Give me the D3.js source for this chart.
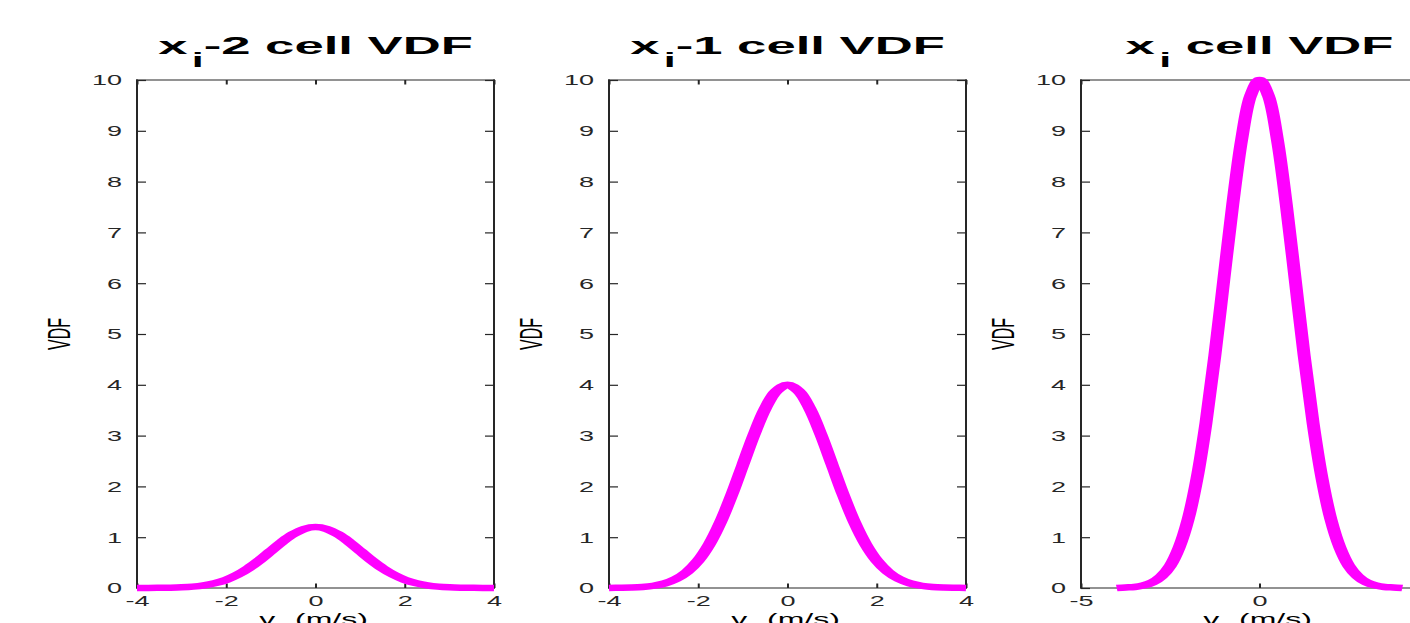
<!DOCTYPE html>
<html><head><meta charset="utf-8">
<script src="https://cdn.jsdelivr.net/npm/d3@7"></script>
<style>body{margin:0;background:#fff;overflow:hidden}svg{display:block;background:#fff}</style>
</head><body>
<svg id="c" width="1410" height="623"></svg>
<script>
// ---- data ----
const velocity = [-4,-3.75,-3.5,-3.25,-3,-2.75,-2.5,-2.25,-2,-1.75,-1.5,-1.25,-1,-0.75,-0.5,-0.25,0,0.25,0.5,0.75,1,1.25,1.5,1.75,2,2.25,2.5,2.75,3,3.25,3.5,3.75,4];
const vdfXiMinus2 = [0.000,0.001,0.003,0.006,0.013,0.027,0.053,0.096,0.162,0.260,0.390,0.549,0.728,0.906,1.059,1.163,1.200,1.163,1.059,0.906,0.728,0.549,0.390,0.260,0.162,0.096,0.053,0.027,0.013,0.006,0.003,0.001,0.000];
const vdfXiMinus1 = [0.001,0.004,0.009,0.020,0.044,0.091,0.176,0.318,0.541,0.865,1.299,1.831,2.426,3.019,3.530,3.877,4.000,3.877,3.530,3.019,2.426,1.831,1.299,0.865,0.541,0.318,0.176,0.091,0.044,0.020,0.009,0.004,0.001];
const vdfXi = [0.00,0.01,0.02,0.05,0.11,0.23,0.44,0.80,1.35,2.16,3.25,4.58,6.07,7.55,8.83,9.69,10.00,9.69,8.83,7.55,6.07,4.58,3.25,2.16,1.35,0.80,0.44,0.23,0.11,0.05,0.02,0.01,0.00];
const titleRest = ["-2 cell VDF", "-1 cell VDF", " cell VDF"];
const xDomains = [[-4,4],[-4,4],[-5,5]];
const xTickSets = [[-4,-2,0,2,4],[-4,-2,0,2,4],[-5,0,5]];
const yTicks = [0,1,2,3,4,5,6,7,8,9,10];
const yLabel = "VDF";
const series = [vdfXiMinus2, vdfXiMinus1, vdfXi];

// ---- layout ----
const lefts = [137, 609, 1081];
const W = 357, plotTop = 80, plotBottom = 588;
const SX = 2;           // horizontal stretch of the original figure
const axisColor = "#262626";
const svg = d3.select("#c");
const fmt = d => String(d);   // plain hyphen-minus like the reference

const y = d3.scaleLinear().domain([0,10]).range([plotBottom, plotTop]);

series.forEach((vals, i) => {
  const L = lefts[i];
  const x = d3.scaleLinear().domain(xDomains[i]).range([L, L + W]);
  const g = svg.append("g");

  const ga = g.append("g").attr("transform", `translate(${L},0)`)
    .call(d3.axisLeft(y).tickValues(yTicks).tickSize(-9).tickSizeOuter(0).tickFormat(fmt));
  ga.select(".domain").remove();
  ga.selectAll(".tick line").attr("stroke", axisColor).attr("stroke-width", 1.2);
  ga.selectAll(".tick text").attr("x", -15 / 1.93).attr("dy", "0.35em")
    .attr("transform", "scale(1.93,1)")
    .attr("fill", axisColor).style("font-family", "'Liberation Sans', Arial, sans-serif").style("font-size", "14px");

  const gr = g.append("g").attr("transform", `translate(${L + W},0)`)
    .call(d3.axisRight(y).tickValues(yTicks).tickSize(-9).tickSizeOuter(0).tickFormat(""));
  gr.select(".domain").remove();
  gr.selectAll(".tick line").attr("stroke", axisColor).attr("stroke-width", 1.2);

  const gb = g.append("g").attr("transform", `translate(0,${plotBottom})`)
    .call(d3.axisBottom(x).tickValues(xTickSets[i]).tickSize(-4.5).tickSizeOuter(0).tickFormat(fmt));
  gb.select(".domain").remove();
  gb.selectAll(".tick line").attr("stroke", axisColor).attr("stroke-width", 2);
  gb.selectAll(".tick text").attr("y", 18).attr("dy", 0)
    .attr("transform", "scale(1.93,1)")
    .attr("fill", axisColor).style("font-family", "'Liberation Sans', Arial, sans-serif").style("font-size", "14px");

  const gt = g.append("g").attr("transform", `translate(0,${plotTop})`)
    .call(d3.axisTop(x).tickValues(xTickSets[i]).tickSize(-4.5).tickSizeOuter(0).tickFormat(""));
  gt.select(".domain").remove();
  gt.selectAll(".tick line").attr("stroke", axisColor).attr("stroke-width", 2);

  g.append("line").attr("x1", L).attr("x2", L).attr("y1", plotTop - 0.6).attr("y2", plotBottom + 0.6).attr("stroke", axisColor).attr("stroke-width", 2);
  g.append("line").attr("x1", L + W).attr("x2", L + W).attr("y1", plotTop - 0.6).attr("y2", plotBottom + 0.6).attr("stroke", axisColor).attr("stroke-width", 2);
  g.append("line").attr("x1", L - 1).attr("x2", L + W + 1).attr("y1", plotTop).attr("y2", plotTop).attr("stroke", axisColor).attr("stroke-width", 1.2);
  g.append("line").attr("x1", L - 1).attr("x2", L + W + 1).attr("y1", plotBottom).attr("y2", plotBottom).attr("stroke", axisColor).attr("stroke-width", 1.2);

  const xs = d3.scaleLinear().domain(xDomains[i]).range([0, W / SX]);
  const line = d3.line().x((d, k) => xs(velocity[k])).y(d => y(d)).curve(d3.curveCatmullRom.alpha(0.5));
  g.append("g").attr("transform", `translate(${L},0) scale(${SX},1)`)
    .append("path").datum(vals).attr("d", line)
    .attr("fill", "none").attr("stroke", "#ff00ff").attr("stroke-width", 6.5)
    .attr("stroke-linejoin", "round").attr("stroke-linecap", "butt");

  const cx = L + W / 2;
  const t = g.append("text").attr("transform", `translate(${cx},54) scale(2.15,1)`)
    .attr("text-anchor", "middle").attr("fill", "#000")
    .style("font-family", "'Liberation Sans', Arial, sans-serif").style("font-weight", "bold").style("font-size", "24.5px");
  t.append("tspan").text("x");
  t.append("tspan").attr("dy", 13).attr("dx", 2).style("font-size", "20px").text("i");
  t.append("tspan").attr("dy", -13).text(titleRest[i]);

  g.append("text").attr("transform", `translate(${L - 67},334) scale(2,1) rotate(-90)`)
    .attr("text-anchor", "middle").attr("fill", "#000")
    .style("font-family", "'Liberation Sans', Arial, sans-serif").style("font-size", "16px").text(yLabel);

  const xl = g.append("text").attr("transform", `translate(${cx - 2},625) scale(2,1)`)
    .attr("text-anchor", "middle").attr("fill", "#000")
    .style("font-family", "'Liberation Sans', Arial, sans-serif").style("font-size", "16px");
  xl.append("tspan").text("v");
  xl.append("tspan").attr("dy", 4).style("font-size", "11px").text("x");
  xl.append("tspan").attr("dy", -4).text(" (m/s)");
});
</script>
</body></html>
